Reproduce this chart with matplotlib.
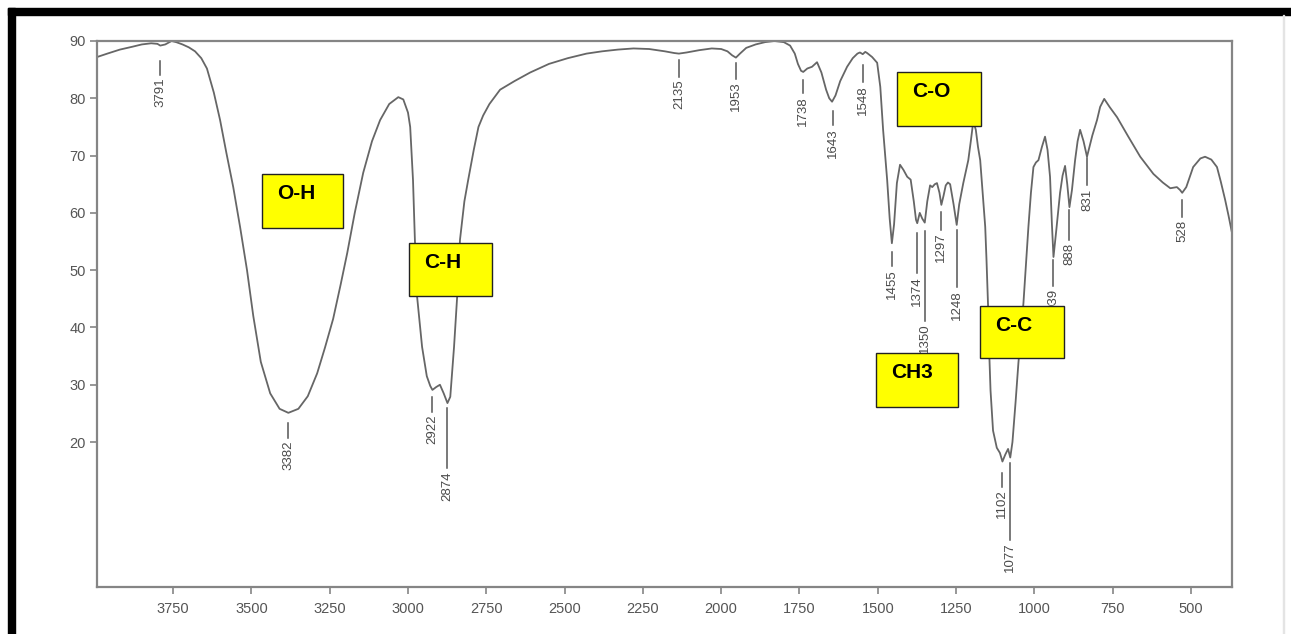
import matplotlib
matplotlib.use('Agg')
import matplotlib.pyplot as plt
from matplotlib.patches import Rectangle
import numpy as np

# FTIR spectrum (wavenumber cm-1, transmittance %)
wavenumber = [3993, 3960, 3920, 3880, 3850, 3820, 3800, 3791, 3775, 3755, 3740, 3720,
              3700, 3680, 3660, 3642, 3620, 3600, 3580, 3558, 3536, 3514, 3494, 3470,
              3440, 3410, 3382, 3350, 3320, 3290, 3265, 3239, 3215, 3194, 3170, 3143,
              3115, 3089, 3060, 3031, 3015, 3000, 2993, 2984, 2978, 2971, 2955, 2940,
              2929, 2922, 2910, 2898, 2886, 2874, 2865, 2853, 2843, 2834, 2820, 2808,
              2790, 2775, 2760, 2740, 2706, 2660, 2610, 2550, 2490, 2430, 2380, 2330,
              2280, 2230, 2180, 2150, 2135, 2110, 2070, 2030, 2000, 1980, 1965, 1953,
              1940, 1920, 1890, 1860, 1830, 1800, 1780, 1765, 1755, 1745, 1738, 1725,
              1710, 1694, 1680, 1665, 1655, 1646, 1635, 1620, 1598, 1580, 1565, 1557,
              1548, 1540, 1534, 1518, 1502, 1492, 1483, 1470, 1462, 1455, 1448, 1439,
              1429, 1418, 1406, 1395, 1385, 1378, 1374, 1366, 1358, 1350, 1342, 1333,
              1326, 1318, 1311, 1303, 1297, 1290, 1283, 1276, 1269, 1258, 1248, 1240,
              1227, 1211, 1203, 1195, 1187, 1180, 1173, 1165, 1157, 1153, 1148, 1145,
              1140, 1132, 1120, 1110, 1102, 1093, 1084, 1077, 1070, 1067, 1060, 1051,
              1043, 1035, 1027, 1019, 1011, 1003, 995, 987, 976, 966, 958, 950,
              944, 939, 930, 918, 910, 902, 895, 888, 880, 870, 862, 854,
              843, 832, 815, 800, 790, 777, 760, 736, 700, 662, 620, 590,
              566, 545, 535, 528, 515, 493, 470, 455, 435, 417, 405, 391,
              380, 369]
transmittance = [87.2, 87.8, 88.5, 89.0, 89.4, 89.6, 89.5, 89.2, 89.4, 90.0, 89.8, 89.4,
                 88.9, 88.2, 87.0, 85.2, 81.0, 76.2, 70.5, 64.5, 57.5, 50.0, 42.0, 34.0,
                 28.5, 25.8, 25.1, 25.8, 28.0, 32.0, 36.5, 41.5, 47.5, 53.0, 60.0, 67.0,
                 72.5, 76.2, 79.0, 80.2, 79.8, 77.5, 75.0, 65.7, 55.3, 45.4, 36.6, 31.5,
                 29.8, 29.1, 29.6, 30.0, 28.5, 26.8, 27.9, 36.6, 45.4, 55.3, 62.0, 65.7,
                 71.0, 75.0, 77.0, 79.0, 81.5, 83.0, 84.5, 86.0, 87.0, 87.8, 88.2, 88.5,
                 88.7, 88.6, 88.2, 87.9, 87.8, 88.0, 88.4, 88.7, 88.6, 88.2, 87.5, 87.1,
                 87.8, 88.8, 89.4, 89.8, 90.0, 89.8, 89.2, 87.8, 86.0, 84.8, 84.6, 85.2,
                 85.5, 86.3, 84.5, 81.5, 80.0, 79.4, 80.5, 83.0, 85.5, 87.0, 87.8, 88.0,
                 87.7, 88.1, 87.9, 87.2, 86.2, 82.0, 74.5, 65.7, 59.0, 54.7, 58.0, 65.2,
                 68.4, 67.5, 66.3, 65.8, 62.0, 58.8, 58.2, 60.0, 59.0, 58.3, 62.0, 64.8,
                 64.5, 65.0, 65.2, 63.5, 61.4, 63.0, 64.8, 65.3, 65.0, 61.5, 57.9, 61.5,
                 65.2, 69.2, 72.5, 76.0, 74.5, 71.5, 69.2, 63.5, 57.6, 52.0, 44.0, 37.0,
                 29.0, 22.0, 19.0, 18.1, 16.6, 17.8, 18.8, 17.3, 20.0, 22.1, 27.0, 33.8,
                 39.0, 44.2, 51.0, 57.6, 63.5, 68.0, 68.8, 69.2, 71.5, 73.3, 71.0, 66.3,
                 58.0, 52.3, 57.0, 63.5, 66.5, 68.2, 65.0, 61.0, 64.0, 69.2, 72.5, 74.5,
                 72.5, 69.8, 73.5, 76.2, 78.5, 79.9, 78.5, 76.7, 73.3, 69.8, 66.8, 65.3,
                 64.3, 64.5, 64.0, 63.5, 64.5, 68.0, 69.5, 69.8, 69.3, 68.0, 65.5, 62.3,
                 59.5, 56.5]

# peak labels
peak_wn = [3791, 3382, 2922, 2874, 2135, 1953, 1738, 1643, 1548, 1455, 1374, 1350,
           1297, 1248, 1102, 1077, 939, 888, 831, 528]
peak_gap = [15, 10, 7, 5, 6, 5, 8, 11, 11, 9, 10, 8, 7, 5, 11, 5, 3, 3, 3, 7]      # px
peak_stem = [14, 15, 15, 60, 17, 16, 13, 14, 17, 14, 40, 90, 18, 57, 14, 77, 26, 30, 27, 17]

# group boxes: label, left, right, top, bottom (data units)
box_labels = ['O-H', 'C-H', 'C-O', 'C-C', 'CH3']
box_left = [3466, 2996, 1438, 1173, 1505]
box_right = [3207, 2731, 1170, 905, 1244]
box_top = [66.8, 54.7, 84.6, 43.8, 35.5]
box_bottom = [57.4, 45.5, 75.2, 34.7, 26.1]

x_ticks = np.arange(3750, 499, -250)
y_ticks = np.arange(20, 91, 10)

W, H = 1291, 634
fig = plt.figure(figsize=(W / 100, H / 100), dpi=100)
ax = fig.add_axes([97 / W, 1 - 587 / H, (1232 - 97) / W, (587 - 41) / H])

xmin, xmax = 3993, 369
ymin, ymax = -5.3, 90
ax.set_xlim(xmin, xmax)
ax.set_ylim(ymin, ymax)

ax.plot(wavenumber, transmittance, color='#666666', lw=1.3, zorder=2)

# frame and ticks
for s in ax.spines.values():
    s.set_color('#858585')
    s.set_linewidth(1.6)
ax.set_xticks(x_ticks)
ax.set_yticks(y_ticks)
ax.tick_params(direction='out', length=5, width=1.2, color='#858585',
               labelcolor='#555555', labelsize=10.5)
ax.tick_params(axis='x', pad=6)
ax.tick_params(axis='y', pad=3)
for lab in ax.get_xticklabels() + ax.get_yticklabels():
    lab.set_family('Liberation Sans')

# pixel -> data scale
ppx = (ax.bbox.width) / abs(xmax - xmin)
ppy = (ax.bbox.height) / (ymax - ymin)

wn_asc = np.array(wavenumber)[::-1]
tr_asc = np.array(transmittance)[::-1]
for wn, gap, stem in zip(peak_wn, peak_gap, peak_stem):
    y = np.interp(wn, wn_asc, tr_asc)
    y0 = y - gap / ppy
    y1 = y - (gap + stem) / ppy
    ax.plot([wn, wn], [y0, y1], color='#555555', lw=1.1, zorder=3)
    ax.text(wn, y1 - 3 / ppy, str(wn), rotation=90, ha='center', va='top',
            fontsize=9.5, color='#4a4a4a', family='Liberation Sans', zorder=3)

for lab, l, r, t, b in zip(box_labels, box_left, box_right, box_top, box_bottom):
    ax.add_patch(Rectangle((l, b), r - l, t - b, facecolor='#ffff00',
                           edgecolor='#222222', lw=1.0, zorder=5))
    ax.text(l - 15 / ppx, t - 10 / ppy, lab, ha='left', va='top', fontsize=15,
            fontweight='bold', family='Liberation Sans', color='black', zorder=6)

# black frame of the screenshot (top and left)
fig.add_artist(Rectangle((8 / W, 1 - 15 / H), (W - 8) / W, 7 / H,
                         transform=fig.transFigure, color='black'))
fig.add_artist(Rectangle((8 / W, 0), 7 / W, (H - 8) / H,
                         transform=fig.transFigure, color='black'))
fig.add_artist(Rectangle((1283 / W, 0), 1 / W, (H - 15) / H,
                         transform=fig.transFigure, color='#e4e4e4'))

fig.savefig('out.png', dpi=100)
